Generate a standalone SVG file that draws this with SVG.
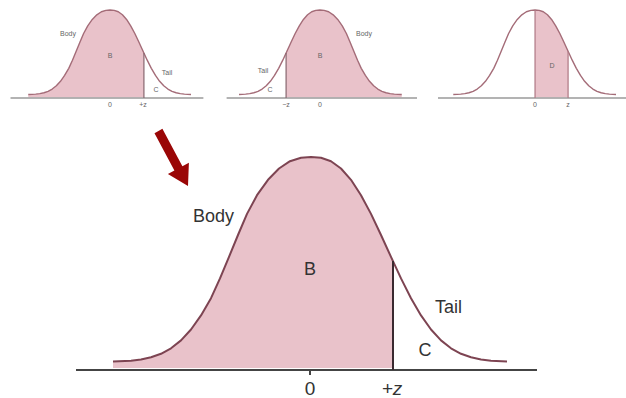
<svg xmlns="http://www.w3.org/2000/svg" xmlns:xlink="http://www.w3.org/1999/xlink" width="626" height="398" viewBox="0 0 626 398">
<style>
.fill{fill:#e9c2ca;stroke:none}
.bcurve{fill:none;stroke:#7d4452;stroke-width:2;stroke-linejoin:round}
.scurve{fill:none;stroke:#a46c78;stroke-width:3.4;stroke-linejoin:round}
.baxis{stroke:#444;stroke-width:2}
.saxis{stroke:#9a9a9a;stroke-width:4}
.bline{stroke:#3a2a30;stroke-width:2}
.sline{stroke:#8a6a72;stroke-width:3}
.mline{stroke:#b07a86;stroke-width:3}
.big{font-family:"Liberation Sans",Arial,sans-serif;font-size:18px;fill:#333}
.sm{font-family:"Liberation Sans",Arial,sans-serif;font-size:7px;fill:#666}
.arrow{fill:#9a0606}
</style>
<defs>
<path id="curve" d="M113,361.6 L131,360.7 L141,359.5 L151,357.3 L161,353.8 L171,348.3 L181,340.4 L191,329.5 L201,315.4 L211,298.2 L220,278.4 L229,256.9 L238,235 L247,213.9 L257,195.2 L268,179.8 L279,168.5 L290,161.2 L301,157.8 L311,157 L321,157.8 L331,161.2 L341,168.5 L351,179.8 L361,195.2 L371,213.9 L381,235 L391,256.9 L401,278.4 L411,298.2 L421,315.4 L431,329.5 L441,340.4 L451,348.3 L461,353.8 L471,357.3 L481,359.5 L491,360.7 L507,361.6"/>
<path id="area" d="M113,368 L113,361.6 L131,360.7 L141,359.5 L151,357.3 L161,353.8 L171,348.3 L181,340.4 L191,329.5 L201,315.4 L211,298.2 L220,278.4 L229,256.9 L238,235 L247,213.9 L257,195.2 L268,179.8 L279,168.5 L290,161.2 L301,157.8 L311,157 L321,157.8 L331,161.2 L341,168.5 L351,179.8 L361,195.2 L371,213.9 L381,235 L391,256.9 L401,278.4 L411,298.2 L421,315.4 L431,329.5 L441,340.4 L451,348.3 L461,353.8 L471,357.3 L481,359.5 L491,360.7 L507,361.6 L507,368 Z"/>
<clipPath id="clipBody" clipPathUnits="userSpaceOnUse"><rect x="100" y="100" width="293" height="280"/></clipPath>
<clipPath id="clipMid" clipPathUnits="userSpaceOnUse"><rect x="311" y="100" width="80" height="280"/></clipPath>
</defs>

<g id="small-right-tail">
<g transform="translate(-18.4,-54.8) scale(0.413)">
<use xlink:href="#area" class="fill" clip-path="url(#clipBody)"/>
<line class="saxis" x1="70" y1="370" x2="537" y2="370"/>
<use xlink:href="#curve" class="scurve"/>
<line class="sline" x1="393" y1="261" x2="393" y2="370"/>
</g>
<text class="sm" x="68" y="36" text-anchor="middle">Body</text>
<text class="sm" x="110" y="58" text-anchor="middle">B</text>
<text class="sm" x="167" y="75" text-anchor="middle">Tail</text>
<text class="sm" x="156" y="92" text-anchor="middle">C</text>
<text class="sm" x="110" y="107" text-anchor="middle">0</text>
<text class="sm" x="143" y="107" text-anchor="middle">+z</text>
</g>

<g id="small-left-tail">
<g transform="translate(448.4,-54.8) scale(-0.413,0.413)">
<use xlink:href="#area" class="fill" clip-path="url(#clipBody)"/>
<line class="saxis" x1="76" y1="370" x2="537" y2="370"/>
<use xlink:href="#curve" class="scurve"/>
<line class="sline" x1="393" y1="261" x2="393" y2="370"/>
</g>
<text class="sm" x="364" y="36" text-anchor="middle">Body</text>
<text class="sm" x="320" y="58" text-anchor="middle">B</text>
<text class="sm" x="263" y="73" text-anchor="middle">Tail</text>
<text class="sm" x="270" y="92" text-anchor="middle">C</text>
<text class="sm" x="286" y="107" text-anchor="middle">−z</text>
<text class="sm" x="320" y="107" text-anchor="middle">0</text>
</g>

<g id="small-middle">
<g transform="translate(406.6,-54.8) scale(0.413)">
<use xlink:href="#area" class="fill" clip-path="url(#clipMid)"/>
<line class="saxis" x1="76" y1="370" x2="537" y2="370"/>
<use xlink:href="#curve" class="scurve"/>
<line class="mline" x1="311" y1="157" x2="311" y2="370"/>
<line class="mline" x1="391" y1="257" x2="391" y2="370"/>
</g>
<text class="sm" x="552" y="68" text-anchor="middle">D</text>
<text class="sm" x="535" y="107" text-anchor="middle">0</text>
<text class="sm" x="568" y="107" text-anchor="middle">z</text>
</g>

<g id="connectors">
<polygon class="arrow" points="162.4,128.8 182.4,166.2 188.9,162.7 188,186 167.9,174.1 174.4,170.6 154.5,133.2"/>
</g>

<g id="big-curve">
<use xlink:href="#area" class="fill" clip-path="url(#clipBody)"/>
<line class="baxis" x1="76" y1="370" x2="537" y2="370"/>
<line class="baxis" x1="310" y1="370" x2="310" y2="375"/>
<use xlink:href="#curve" class="bcurve"/>
<line class="bline" x1="393" y1="261" x2="393" y2="370"/>
<text class="big" x="193" y="222">Body</text>
<text class="big" x="310" y="275" text-anchor="middle">B</text>
<text class="big" x="435" y="313">Tail</text>
<text class="big" x="425" y="356" text-anchor="middle">C</text>
<text class="big" x="310" y="395" text-anchor="middle" style="font-size:19px">0</text>
<text class="big" x="392" y="395" text-anchor="middle" style="font-size:19px;font-style:italic">+z</text>
</g>
</svg>
